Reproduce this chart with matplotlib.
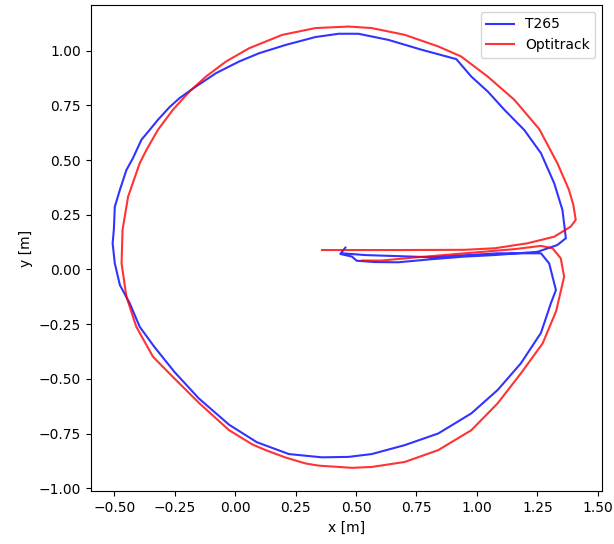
import numpy as np
from matplotlib import pyplot as plt

# T265 trajectory (x, y in metres)
t265_x = [0.456, 0.442, 0.435, 0.483, 0.503, 0.579, 0.675, 0.812, 0.949, 1.073,
          1.251, 1.333, 1.368, 1.364, 1.354, 1.320, 1.265, 1.196, 1.114, 1.045,
          0.977, 0.915, 0.771, 0.634, 0.510, 0.428, 0.332, 0.209, 0.099, 0.016,
          -0.079, -0.162, -0.230, -0.272, -0.320, -0.354, -0.388, -0.423, -0.450, -0.477,
          -0.498, -0.502, -0.507, -0.498, -0.477, -0.436, -0.395, -0.335, -0.250, -0.150,
          -0.025, 0.090, 0.222, 0.359, 0.469, 0.565, 0.702, 0.840, 0.977, 1.086,
          1.182, 1.265, 1.306, 1.327, 1.299, 1.265, 1.086, 0.812, 0.538, 0.442]
t265_y = [0.100, 0.081, 0.071, 0.059, 0.040, 0.034, 0.033, 0.047, 0.059, 0.066,
          0.081, 0.112, 0.143, 0.181, 0.272, 0.394, 0.532, 0.638, 0.730, 0.814,
          0.882, 0.962, 1.005, 1.050, 1.078, 1.078, 1.063, 1.027, 0.989, 0.951,
          0.898, 0.837, 0.784, 0.742, 0.684, 0.638, 0.593, 0.509, 0.455, 0.364,
          0.287, 0.181, 0.120, 0.028, -0.071, -0.155, -0.262, -0.353, -0.470, -0.590,
          -0.710, -0.790, -0.844, -0.859, -0.857, -0.844, -0.803, -0.750, -0.658, -0.551,
          -0.429, -0.290, -0.155, -0.094, 0.028, 0.074, 0.074, 0.056, 0.066, 0.074]

# Optitrack ground truth
opti_x = [0.359, 0.675, 0.949, 1.073, 1.210, 1.320, 1.388, 1.409, 1.399, 1.381,
          1.333, 1.258, 1.155, 1.045, 0.935, 0.840, 0.702, 0.565, 0.469, 0.332,
          0.195, 0.058, -0.038, -0.121, -0.189, -0.258, -0.320, -0.367, -0.395, -0.443,
          -0.466, -0.470, -0.450, -0.409, -0.340, -0.258, -0.148, -0.025, 0.071, 0.126,
          0.209, 0.291, 0.346, 0.483, 0.565, 0.702, 0.840, 0.977, 1.086, 1.182,
          1.272, 1.328, 1.361, 1.347, 1.313, 1.265, 1.155, 0.949, 0.744, 0.606,
          0.524]
opti_y = [0.089, 0.089, 0.090, 0.097, 0.120, 0.150, 0.196, 0.227, 0.295, 0.364,
          0.486, 0.642, 0.776, 0.882, 0.974, 1.020, 1.073, 1.104, 1.111, 1.104,
          1.073, 1.012, 0.951, 0.882, 0.814, 0.730, 0.638, 0.547, 0.486, 0.333,
          0.181, 0.028, -0.124, -0.262, -0.399, -0.491, -0.612, -0.735, -0.800, -0.826,
          -0.860, -0.887, -0.897, -0.907, -0.903, -0.880, -0.826, -0.735, -0.612, -0.475,
          -0.338, -0.190, -0.033, 0.051, 0.097, 0.108, 0.093, 0.074, 0.055, 0.041,
          0.041]

fig = plt.figure(figsize=(6.14, 5.44), dpi=100)
ax = fig.add_subplot(111)
fig.subplots_adjust(left=0.148, right=0.981, bottom=0.097, top=0.991)

ax.plot(t265_x, t265_y, color='b', alpha=0.8, label='T265')
ax.plot(opti_x, opti_y, color='r', alpha=0.8, label='Optitrack')
ax.set_xlabel('x [m]')
ax.set_ylabel('y [m]')
ax.set_xlim(-0.597, 1.519)
ax.set_ylim(-1.014, 1.21)
ax.set_xticks(np.arange(-0.5, 1.51, 0.25))
ax.set_yticks(np.arange(-1.0, 1.01, 0.25))
ax.legend(loc='upper right')

plt.savefig('out.png', dpi=100)
